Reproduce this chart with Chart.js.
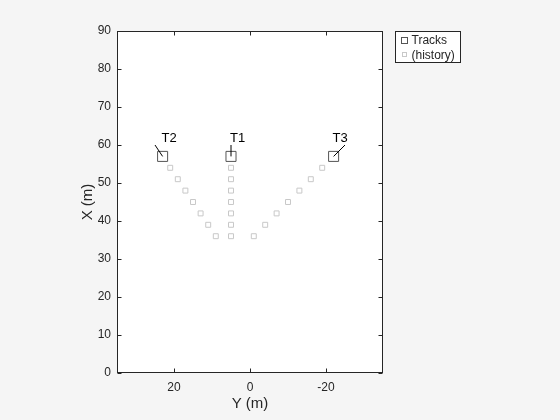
<!DOCTYPE html>
<html>
<head>
<meta charset="utf-8">
<script src="https://cdn.jsdelivr.net/npm/chart.js@4.4.1/dist/chart.umd.min.js"></script>
<style>
  html, body { margin: 0; padding: 0; background: #f5f5f5; }
  canvas { display: block; }
</style>
</head>
<body>
<canvas id="myChart" width="560" height="420"></canvas>
<script>
// current tracks (Y is lateral, shown on the horizontal axis, X is forward)
const trackIds = ["T1", "T2", "T3"];
const trackY = [5, 23, -22];
const trackX = [57, 57, 57];
// end points of the velocity lines
const velY = [5, 25, -25];
const velX = [60, 60, 60];
// track history, oldest first
const histX = [36, 39, 42, 45, 48, 51, 54];
const histY1 = [5, 5, 5, 5, 5, 5, 5];
const histY2 = [9, 11, 13, 15, 17, 19, 21];
const histY3 = [-1, -4, -7, -10, -13, -16, -19];
const yTicks = [20, 0, -20];

const axisColor = "#262626";
const trackColor = "#555555";
const histColor = "#c8c8c8";
const figColor = "#f5f5f5";
Chart.defaults.font.family = "'Liberation Sans', Arial, sans-serif";

const tracks = trackIds.map((id, i) => ({ x: trackY[i], y: trackX[i] }));
const history = [histY1, histY2, histY3].flatMap(ys => ys.map((v, i) => ({ x: v, y: histX[i] })));

const velSets = trackIds.map((id, i) => ({
  type: "line",
  label: id + " velocity",
  data: [{ x: trackY[i], y: trackX[i] }, { x: velY[i], y: velX[i] }],
  borderColor: "#000",
  borderWidth: 1,
  pointRadius: 0,
  fill: false,
}));

const data = {
  datasets: [
    ...velSets,
    {
      label: "Tracks",
      data: tracks,
      pointStyle: "rect",
      pointRadius: 7.1,
      backgroundColor: "rgba(0,0,0,0)",
      borderColor: trackColor,
      borderWidth: 1,
    },
    {
      label: "(history)",
      data: history,
      pointStyle: "rect",
      pointRadius: 3.5,
      backgroundColor: "rgba(0,0,0,0)",
      borderColor: histColor,
      borderWidth: 1,
    },
  ],
};

// white plot area, box with inner ticks, track labels, legend
const frame = {
  id: "frame",
  beforeDraw(chart) {
    const { ctx, chartArea: a } = chart;
    ctx.save();
    ctx.fillStyle = figColor;
    ctx.fillRect(0, 0, chart.width, chart.height);
    ctx.fillStyle = "#fff";
    ctx.fillRect(a.left, a.top, a.right - a.left, a.bottom - a.top);
    ctx.restore();
  },
  afterDraw(chart) {
    const { ctx, chartArea: a, scales } = chart;
    const L = Math.round(a.left) + 0.5, R = Math.round(a.right) - 0.5;
    const T = Math.round(a.top) + 0.5, B = Math.round(a.bottom) - 0.5;
    ctx.save();
    ctx.strokeStyle = axisColor;
    ctx.lineWidth = 1;
    ctx.strokeRect(L, T, R - L, B - T);
    ctx.beginPath();
    scales.x.ticks.forEach(t => {
      const px = Math.round(scales.x.getPixelForValue(t.value)) + 0.5;
      ctx.moveTo(px, B); ctx.lineTo(px, B - 4);
      ctx.moveTo(px, T); ctx.lineTo(px, T + 4);
    });
    scales.y.ticks.forEach(t => {
      const py = Math.round(scales.y.getPixelForValue(t.value)) + 0.5;
      ctx.moveTo(L, py); ctx.lineTo(L + 4, py);
      ctx.moveTo(R, py); ctx.lineTo(R - 4, py);
    });
    ctx.stroke();

    // track labels
    ctx.fillStyle = "#000";
    ctx.font = "13px 'Liberation Sans', Arial, sans-serif";
    ctx.textAlign = "left";
    ctx.textBaseline = "alphabetic";
    trackIds.forEach((id, i) => {
      const px = scales.x.getPixelForValue(trackY[i]);
      const py = scales.y.getPixelForValue(trackX[i]);
      ctx.fillText(id, px - 1, py - 14.5);
    });

    // legend
    const ds = chart.data.datasets;
    const items = ds.filter(d => d.type !== "line");
    const lx = 395.5, ly = 31.5, lw = 65, lh = 31;
    ctx.fillStyle = "#fff";
    ctx.fillRect(lx, ly, lw, lh);
    ctx.strokeStyle = axisColor;
    ctx.strokeRect(lx, ly, lw, lh);
    ctx.font = "12px 'Liberation Sans', Arial, sans-serif";
    items.forEach((d, i) => {
      const cy = 39.5 + i * 14.5;
      const s = i === 0 ? 6 : 4;
      ctx.strokeStyle = d.borderColor;
      ctx.strokeRect(Math.round(403.5 - s / 2) + 0.5, Math.round(cy - s / 2) + 0.5, s, s);
      ctx.fillStyle = axisColor;
      ctx.fillText(d.label, 411.5, cy + 4.5);
    });
    ctx.restore();
  },
};

const options = {
  responsive: false,
  animation: false,
  events: [],
  layout: { padding: { left: 0, top: 31, right: 177, bottom: 0 } },
  plugins: { legend: { display: false }, tooltip: { enabled: false } },
  scales: {
    x: {
      type: "linear",
      position: "bottom",
      reverse: true,
      min: -35,
      max: 35,
      grid: { display: false, drawTicks: false },
      border: { display: false },
      afterBuildTicks: s => { s.ticks = yTicks.map(v => ({ value: v })); },
      afterFit: s => { s.height = 47; },
      ticks: { color: axisColor, padding: 7, font: { size: 12 }, maxRotation: 0 },
      title: { display: true, text: "Y (m)", color: axisColor, font: { size: 15 }, padding: { top: 0, bottom: 7 } },
    },
    y: {
      type: "linear",
      position: "left",
      min: 0,
      max: 90,
      grid: { display: false, drawTicks: false },
      border: { display: false },
      afterFit: s => { s.width = 117; },
      ticks: { stepSize: 10, color: axisColor, padding: 6, font: { size: 12 } },
      title: { display: true, text: "X (m)", color: axisColor, font: { size: 15 }, padding: { top: 79, bottom: 0 } },
    },
  },
};

const config = {
  type: "scatter",
  data: data,
  options: options,
  plugins: [frame],
};

const myChart = new Chart(document.getElementById("myChart"), config);
</script>
</body>
</html>
